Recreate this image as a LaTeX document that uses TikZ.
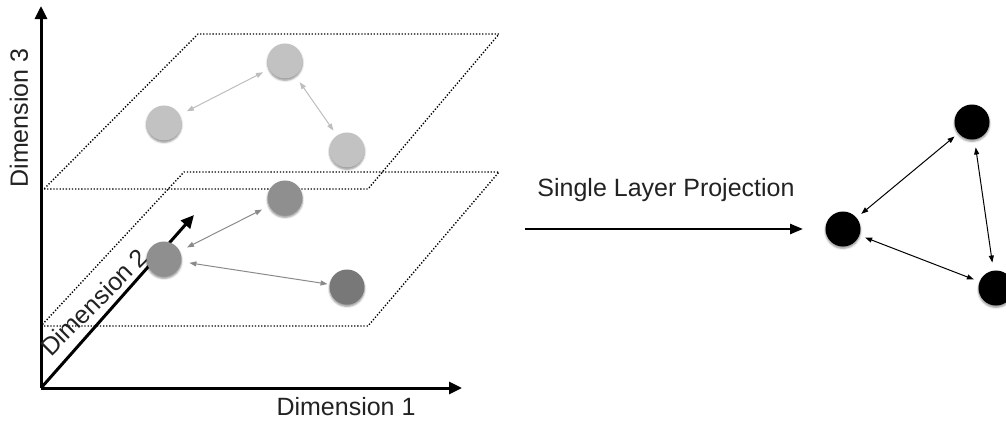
\documentclass[tikz,border=0pt]{standalone}
\usepackage{fontspec}
\setmainfont{Liberation Sans}
\usetikzlibrary{arrows.meta,shadows.blur}
\definecolor{upperdot}{HTML}{C2C2C2}
\definecolor{upperlink}{HTML}{BDBDBD}
\definecolor{lowerdot}{HTML}{8F8F8F}
\definecolor{lowerdark}{HTML}{787878}
\definecolor{lowerlink}{HTML}{8A8A8A}
\definecolor{labeltext}{HTML}{222222}
\begin{document}
\begin{tikzpicture}[x=1pt,y=-1pt,
  axis/.style={line width=3pt,-{Triangle[length=13pt,width=12pt]}},
  plane/.style={line width=1.4pt,dash pattern=on 1.3pt off 1.8pt,black},
  dot/.style={circle,minimum size=35pt,inner sep=0pt,
    blur shadow={shadow xshift=0pt,shadow yshift=-1.8pt,shadow blur radius=2pt,shadow opacity=45}},
  link/.style={line width=1pt,{Triangle[length=7pt,width=5pt]}-{Triangle[length=7pt,width=5pt]}},
  lbl/.style={font=\fontsize{25}{28}\selectfont,text=labeltext,inner sep=0pt}
]
\useasboundingbox (0,0) rectangle (1006,423);

% axes of the 3-D frame
\coordinate (O) at (41,388);
\coordinate (x1) at (462,388);
\coordinate (x3) at (41,6);
\coordinate (x2) at (194,215);

% upper layer (dotted parallelogram)
\coordinate (ua) at (44,189);
\coordinate (ub) at (368,189);
\coordinate (uc) at (499,34);
\coordinate (ud) at (198,34);
\draw[plane] (ua) -- (ub) -- (uc) -- (ud) -- cycle;

% lower layer (dotted parallelogram)
\coordinate (la) at (41,326);
\coordinate (lb) at (368,326);
\coordinate (lc) at (499,172);
\coordinate (ld) at (184,172);
\draw[plane] (la) -- (lb) -- (lc) -- (ld) -- cycle;

\draw[axis] (O) -- (x1);
\draw[axis] (O) -- (x3);
\draw[axis] (O) -- (x2);

\node[lbl,rotate=90] (d3) at (19,118) {Dimension 3};
\node[lbl] (d1) at (346,407) {Dimension 1};
\node[lbl,rotate=45] (d2) at (94,302) {Dimension 2};

% nodes of the upper layer
\node[dot,fill=upperdot] (u1) at (164,123) {};
\node[dot,fill=upperdot] (u2) at (285,61) {};
\node[dot,fill=upperdot] (u3) at (347,150) {};
\draw[link,upperlink,shorten <=8pt,shorten >=7pt] (u1) -- (u2);
\draw[link,upperlink,shorten <=8pt,shorten >=6pt] (u2) -- (u3);

% nodes of the lower layer
\node[dot,fill=lowerdot] (l1) at (164,259) {};
\node[dot,fill=lowerdot] (l2) at (285,198) {};
\node[dot,fill=lowerdark] (l3) at (347,287) {};
\draw[link,lowerlink,shorten <=8pt,shorten >=8pt] (l1) -- (l2);
\draw[link,lowerlink,shorten <=8pt,shorten >=2pt] (l1) -- (l3);

% projection arrow
\coordinate (ps) at (525,229);
\coordinate (pe) at (803,229);
\draw[line width=2.5pt,-{Triangle[length=13pt,width=10pt]}] (ps) -- (pe);
\node[lbl] (pl) at (666,190) {Single Layer Projection};

% projected single-layer graph
\node[dot,fill=black] (b1) at (843,229) {};
\node[dot,fill=black] (b2) at (972,122) {};
\node[dot,fill=black] (b3) at (996,288) {};
\draw[link,black,shorten <=6pt,shorten >=5pt] (b1) -- (b2);
\draw[link,black,shorten <=8pt,shorten >=8pt] (b2) -- (b3);
\draw[link,black,shorten <=6pt,shorten >=6pt] (b1) -- (b3);
\end{tikzpicture}
\end{document}
